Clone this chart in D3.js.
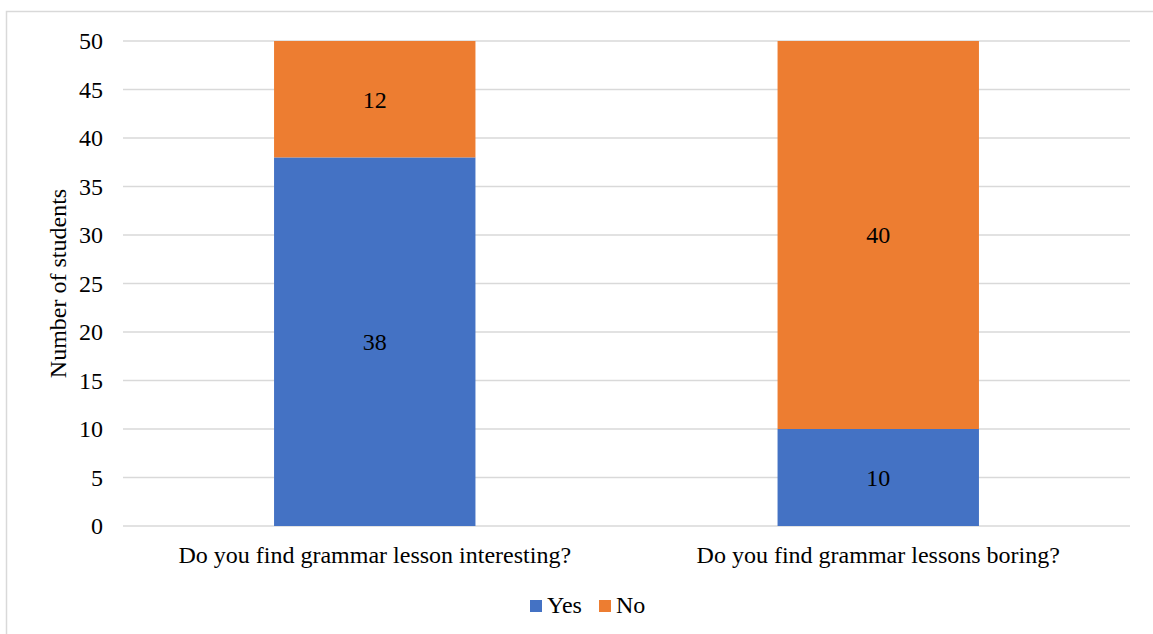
<!DOCTYPE html>
<html><head><meta charset="utf-8">
<script src="https://cdn.jsdelivr.net/npm/d3@7"></script>
<style>body{margin:0;background:#fff}svg{display:block}text{font-family:"Liberation Serif","Times New Roman",serif;fill:#000}</style>
</head><body><svg id="c" width="1153" height="634"></svg>
<script>
const categories = ["Do you find grammar lesson interesting?", "Do you find grammar lessons boring?"];
const yesValues = [38, 10];
const noValues = [12, 40];
const seriesNames = ["Yes", "No"];
const seriesColors = ["#4472C4", "#ED7D31"];
const yTicks = [0, 5, 10, 15, 20, 25, 30, 35, 40, 45, 50];

const FS = "24px";
const svg = d3.select("#c");
svg.append("rect").attr("x", 6.5).attr("y", 11.5).attr("width", 1160).attr("height", 640)
  .attr("fill", "none").attr("stroke", "#d9d9d9").attr("stroke-width", 1.5);

const L = 123, R = 1130, T = 41, B = 526;
const x = d3.scaleBand().domain(categories).range([L, R]).paddingInner(0.6).paddingOuter(0.3);
const y = d3.scaleLinear().domain([0, 50]).range([B, T]);

const data = categories.map((c, i) => ({cat: c, Yes: yesValues[i], No: noValues[i]}));
const stacked = d3.stack().keys(seriesNames)(data);

// grid
svg.append("g").selectAll("line").data(yTicks).join("line")
  .attr("x1", L).attr("x2", R).attr("y1", d => y(d)).attr("y2", d => y(d))
  .attr("stroke", "#d9d9d9").attr("stroke-width", 1.5);

// y axis labels
const yAxis = d3.axisLeft(y).tickValues(yTicks).tickSize(0).tickPadding(20);
const ga = svg.append("g").attr("transform", `translate(${L},0)`).call(yAxis);
ga.select(".domain").remove();
ga.selectAll("text").style("font-size", FS).style("font-family", "Liberation Serif").attr("fill", "#000");

// bars
stacked.forEach((s, si) => {
  svg.append("g").selectAll("rect").data(s).join("rect")
    .attr("x", d => x(d.data.cat)).attr("width", x.bandwidth())
    .attr("y", d => y(d[1])).attr("height", d => y(d[0]) - y(d[1]))
    .attr("fill", seriesColors[si]);
  svg.append("g").selectAll("text").data(s).join("text")
    .attr("x", d => x(d.data.cat) + x.bandwidth() / 2)
    .attr("y", d => (y(d[0]) + y(d[1])) / 2)
    .attr("dy", "0.35em").attr("text-anchor", "middle").style("font-size", FS)
    .text(d => d[1] - d[0]);
});

// x axis labels
const xAxis = d3.axisBottom(x).tickSize(0).tickPadding(20);
const gx = svg.append("g").attr("transform", `translate(0,${B})`).call(xAxis);
gx.select(".domain").remove();
gx.selectAll("text").style("font-size", FS).style("font-family", "Liberation Serif").attr("fill", "#000");

// y title
svg.append("text").attr("transform", `translate(66,${(T + B) / 2}) rotate(-90)`)
  .attr("text-anchor", "middle").style("font-size", FS).text("Number of students");

// legend
const leg = svg.append("g");
const legX = [530, 599];
seriesNames.forEach((n, i) => {
  leg.append("rect").attr("x", legX[i]).attr("y", 600).attr("width", 12).attr("height", 12).attr("fill", seriesColors[i]);
  leg.append("text").attr("x", legX[i] + 17).attr("y", 613).style("font-size", FS).text(n);
});
</script></body></html>
